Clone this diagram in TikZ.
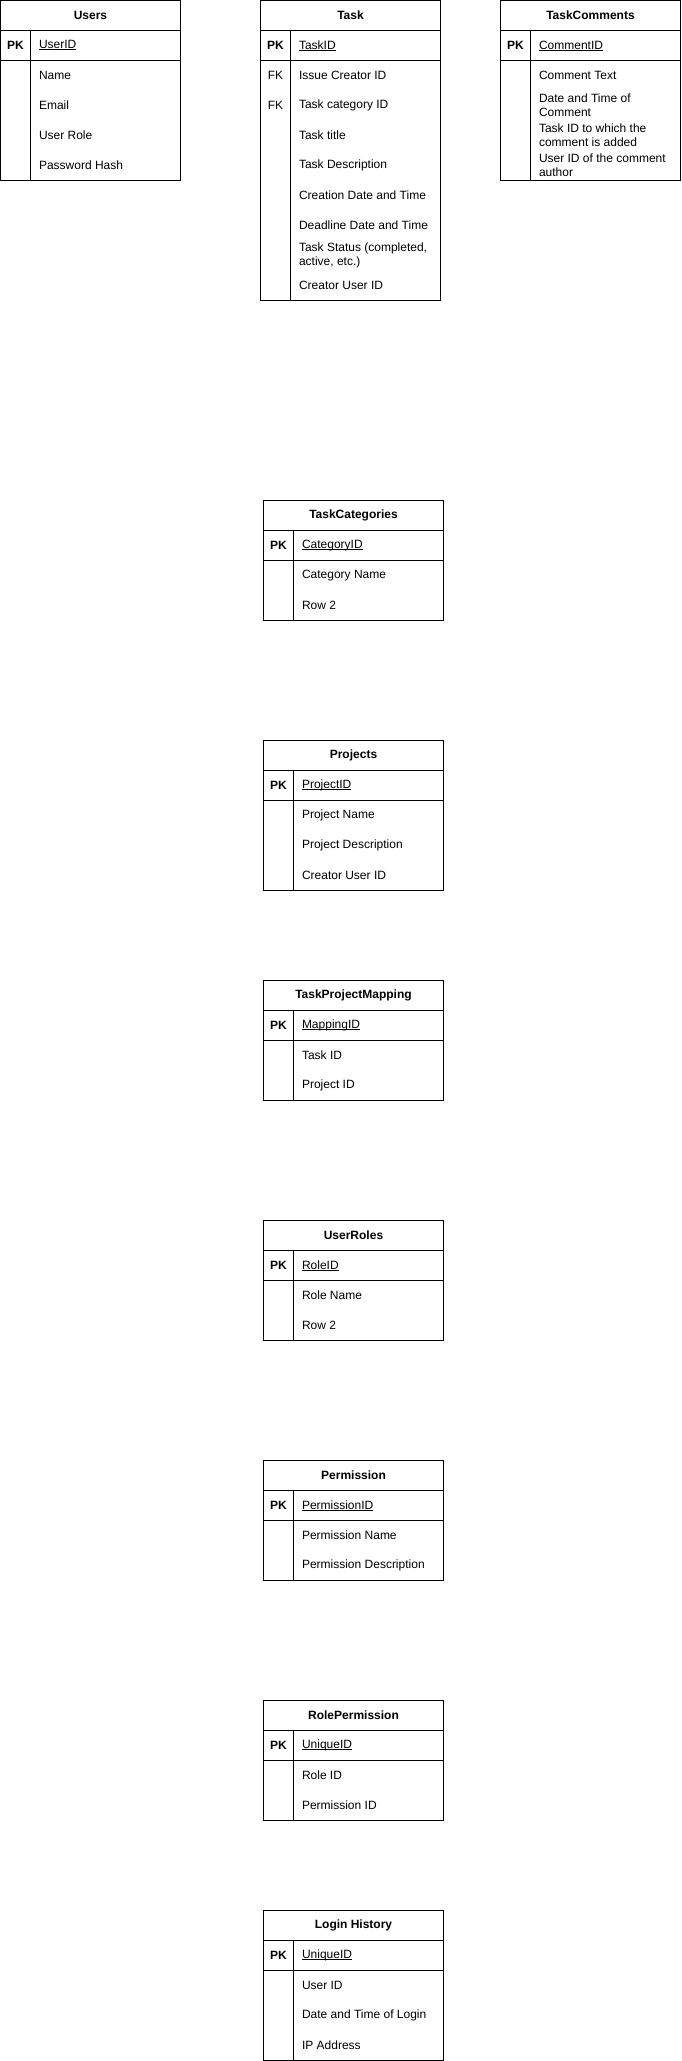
\documentclass[tikz,border=0pt]{standalone}
\usepackage{fontspec}
\setmainfont{Liberation Sans}
\usetikzlibrary{positioning}
\newcommand\keyul[1]{\setbox0\hbox{#1}\rlap{\rule[-1.3pt]{\wd0}{0.8pt}}\box0}

\begin{document}
\begin{tikzpicture}[x=1pt,y=-1pt,line width=1pt,
    tblhead/.style={font=\fontsize{12}{14}\selectfont\bfseries,inner sep=0pt},
    keytag/.style={font=\fontsize{12}{14}\selectfont\bfseries,inner sep=0pt},
    field/.style={font=\fontsize{12}{14}\selectfont,inner sep=0pt,anchor=west,align=left}]
  \useasboundingbox (-0.5,-0.5) rectangle (680.5,2060.5);
  % one table per entry: name / left / top / title / key / rows
  \foreach \tn/\tx/\ty/\title/\key/\n/\rows in {
      users/0/0/Users/UserID/4/{Name,Email,User Role,Password Hash},
      task/260/0/Task/TaskID/8/{Issue Creator ID,Task category ID,Task title,Task Description,Creation Date and Time,Deadline Date and Time,{Task Status (completed,\\active, etc.)},Creator User ID},
      comments/500/0/TaskComments/CommentID/4/{Comment Text,{Date and Time of\\Comment},{Task ID to which the\\comment is added},{User ID of the comment\\author}},
      categories/263/500/TaskCategories/CategoryID/2/{Category Name,Row 2},
      projects/263/740/Projects/ProjectID/3/{Project Name,Project Description,Creator User ID},
      mapping/263/980/TaskProjectMapping/MappingID/2/{Task ID,Project ID},
      roles/263/1220/UserRoles/RoleID/2/{Role Name,Row 2},
      permission/263/1460/Permission/PermissionID/2/{Permission Name,Permission Description},
      rolepermission/263/1700/RolePermission/UniqueID/2/{Role ID,Permission ID},
      login/263/1910/Login History/UniqueID/3/{User ID,Date and Time of Login,IP Address}}{
    \draw (\tx,\ty) rectangle ++(180,60+30*\n);
    \draw (\tx,\ty+30) -- ++(180,0);
    \draw (\tx,\ty+60) -- ++(180,0);
    \draw (\tx+30,\ty+30) -- ++(0,30+30*\n);
    \node[tblhead] (\tn-head) at (\tx+90,\ty+15) {\title};
    \node[keytag] (\tn-pk) at (\tx+15,\ty+45) {PK};
    \node[field] (\tn-key) at (\tx+38,\ty+45) {\keyul{\key}};
    \foreach \f [count=\i] in \rows \node[field] (\tn-\i) at (\tx+38,\ty+45+30*\i) {\f};
  }
  \foreach \i in {1,2} \node[font=\fontsize{12}{14}\selectfont,inner sep=0pt] (task-fk\i) at (task-\i -| task-pk) {FK};
\end{tikzpicture}
\end{document}
